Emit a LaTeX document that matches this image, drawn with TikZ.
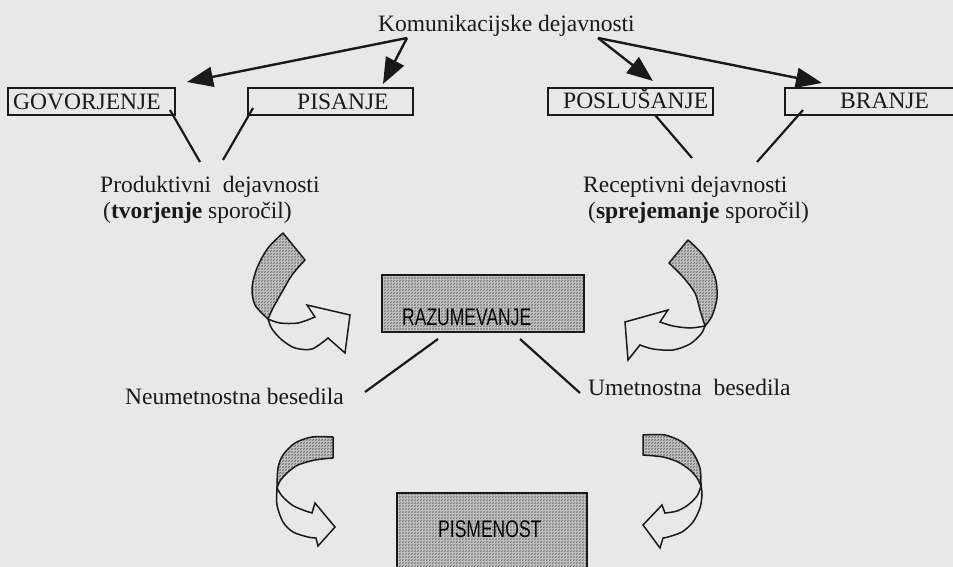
\documentclass[tikz,border=0pt]{standalone}
\usepackage{graphicx}
\usepackage{fontspec}
\setmainfont{Liberation Serif}
\newfontfamily\boxfont{Liberation Sans}
\usetikzlibrary{arrows.meta,patterns}
\definecolor{paper}{RGB}{232,232,232}
\definecolor{ink}{RGB}{25,25,25}
\pgfdeclarepatternformonly{screendots}{\pgfpointorigin}{\pgfqpoint{3pt}{3pt}}{\pgfqpoint{3pt}{3pt}}{%
  \pgfpathcircle{\pgfqpoint{0pt}{0pt}}{.8pt}%
  \pgfpathcircle{\pgfqpoint{1.5pt}{1.5pt}}{.8pt}%
  \pgfusepath{fill}}
\begin{document}
\begin{tikzpicture}[x=1pt,y=-1pt,
  txt/.style={inner sep=0pt, text=ink, font=\fontsize{23.5}{26}\selectfont},
  boxst/.style={draw=ink, line width=1.5pt, inner sep=0pt, minimum height=27pt},
  hatchbox/.style={draw=ink, line width=1.5pt, inner sep=0pt, preaction={fill=black!25}, pattern=screendots, pattern color=black!85},
  hatch/.style={draw=ink, line width=1.5pt, line join=round, preaction={fill=black!25}, pattern=screendots, pattern color=black!85},
  plainpart/.style={draw=ink, line width=1.5pt, fill=paper, line join=miter},
  conn/.style={draw=ink, line width=2.2pt},
  bigarrow/.style={draw=ink, line width=2.4pt, -{Triangle[length=26pt,width=20pt]}},
  boxtxt/.style={inner sep=0pt, text=black, font=\boxfont\fontsize{24}{26}\selectfont}
]
\clip (0,0) rectangle (953,567);
\fill[paper] (0,0) rectangle (953,567);

% title and arrows
\node[txt, anchor=base west] (kom) at (378,32) {Komunikacijske dejavnosti};
\coordinate (k1) at (407,38);
\coordinate (k2) at (598,38);
\coordinate (t1) at (187,82);
\coordinate (t2) at (383,84);
\coordinate (t3) at (653,81);
\coordinate (t4) at (822,83);
\draw[bigarrow] (k1) -- (t1);
\draw[bigarrow] (k1) -- (t2);
\draw[bigarrow] (k2) -- (t3);
\draw[bigarrow] (k2) -- (t4);

% activity boxes
\node[boxst, minimum width=167pt] (gov) at (91.5,101.5) {};
\node[boxst, minimum width=165pt] (pis) at (330.5,101.5) {};
\node[boxst, minimum width=165pt] (pos) at (630.5,101.5) {};
\node[boxst, minimum width=180pt] (bra) at (875,101.5) {};
\node[txt, anchor=base west] (govt) at (13,110) {GOVORJENJE};
\node[txt, anchor=base west] (pist) at (297,110) {PISANJE};
\node[txt, anchor=base west] (post) at (563,109) {POSLUŠANJE};
\node[txt, anchor=base west] (brat) at (840,109) {BRANJE};

% labels under boxes
\node[txt, anchor=base west] (prod1) at (100,192) {Produktivni~ dejavnosti};
\node[txt, anchor=base west] (prod2) at (103,218) {(\textbf{tvorjenje} sporočil)};
\node[txt, anchor=base west] (rec1) at (583,192) {Receptivni dejavnosti};
\node[txt, anchor=base west] (rec2) at (588,218) {(\textbf{sprejemanje} sporočil)};

\coordinate (g1) at (170,110);  \coordinate (g2) at (200,162);
\coordinate (p1) at (253,108);  \coordinate (p2) at (223,160);
\coordinate (s1) at (655,115);  \coordinate (s2) at (692,158);
\coordinate (b1) at (803,110);  \coordinate (b2) at (757,162);
\draw[conn] (g1) -- (g2);
\draw[conn] (p1) -- (p2);
\draw[conn] (s1) -- (s2);
\draw[conn] (b1) -- (b2);

% RAZUMEVANJE
\node[hatchbox, minimum width=202pt, minimum height=57pt] (raz) at (483,303.5) {};
\node[boxtxt, anchor=base west] (razt) at (402,325) {\scalebox{0.73}[1]{RAZUMEVANJE}};
\coordinate (r1) at (438,339);  \coordinate (r2) at (365,392);
\coordinate (r3) at (520,339);  \coordinate (r4) at (580,393);
\draw[conn] (r1) -- (r2);
\draw[conn] (r3) -- (r4);
\node[txt, anchor=base east] (neu) at (344,404) {Neumetnostna besedila};
\node[txt, anchor=base west] (umt) at (588,395) {Umetnostna~ besedila};

% PISMENOST
\node[hatchbox, minimum width=190pt, minimum height=82pt] (pism) at (492,534) {};
\node[boxtxt, anchor=base west] (pismt) at (438,537) {\scalebox{0.73}[1]{PISMENOST}};

% curved arrow A (top left)
\path[plainpart] (268,319) -- plot[smooth] coordinates {(268,319) (280,323) (298,323) (315,317)}
  -- (307,305) -- (350,315) -- (345,353) -- (328,338)
  -- plot[smooth] coordinates {(328,338) (312,349) (295,348) (282,340) (272,329) (268,319)} -- cycle;
\path[hatch] (283,233) -- (305,260)
  -- plot[smooth] coordinates {(305,260) (292,275) (282,292) (273,308) (268,319)}
  -- plot[smooth] coordinates {(268,319) (255,305) (252,288) (257,268) (268,248) (283,233)} -- cycle;

% curved arrow B (top right)
\path[plainpart] (705,326) -- plot[smooth] coordinates {(705,326) (690,328) (673,326) (660,322)}
  -- (668,310) -- (625,322) -- (628,360) -- (640,345)
  -- plot[smooth] coordinates {(640,345) (653,349) (673,350) (690,344) (701,334) (705,326)} -- cycle;
\path[hatch] (688,240) -- (669,263)
  -- plot[smooth] coordinates {(669,263) (683,277) (695,293) (700,310) (705,326)}
  -- plot[smooth] coordinates {(705,326) (712,316) (717,298) (715,277) (703,255) (688,240)} -- cycle;

% curved arrow C (bottom left)
\path[plainpart] (277,488) -- plot[smooth] coordinates {(277,488) (282,496) (292,505) (303,510) (312,513)}
  -- (315,503) -- (335,527) -- (318,546) -- (316,538)
  -- plot[smooth] coordinates {(316,538) (308,537) (293,532) (283,522) (277,505) (277,488)} -- cycle;
\path[hatch] (333,437) -- (333,458)
  -- plot[smooth] coordinates {(333,458) (315,460) (298,465) (287,473) (280,481) (277,488)}
  -- plot[smooth] coordinates {(277,488) (278,468) (283,455) (295,443) (312,437) (333,437)} -- cycle;

% curved arrow D (bottom right)
\path[plainpart] (701,486) -- plot[smooth] coordinates {(701,486) (702,495) (700,508) (693,522) (682,532) (668,537) (663,538)}
  -- (660,548) -- (643,525) -- (662,505) -- (665,513)
  -- plot[smooth] coordinates {(665,513) (677,511) (688,505) (697,496) (701,486)} -- cycle;
\path[hatch] (643,435) -- (643,455)
  -- plot[smooth] coordinates {(643,455) (663,457) (678,462) (690,470) (697,478) (701,486)}
  -- plot[smooth] coordinates {(701,486) (700,468) (693,453) (682,442) (665,435) (643,435)} -- cycle;
\end{tikzpicture}
\end{document}
